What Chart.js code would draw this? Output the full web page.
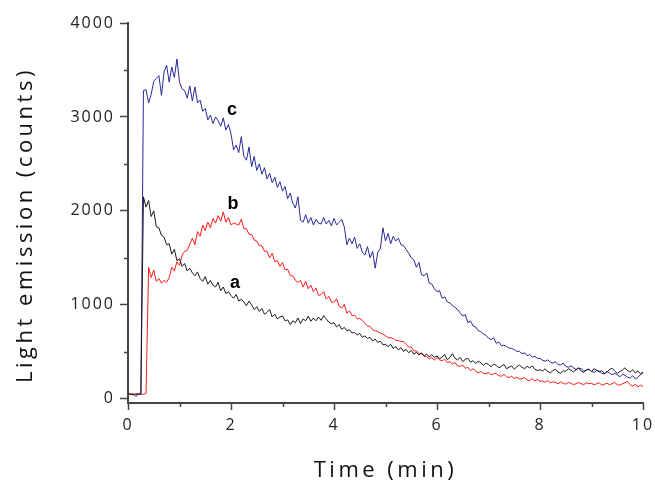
<!DOCTYPE html>
<html>
<head>
<meta charset="utf-8">
<script src="https://cdn.jsdelivr.net/npm/chart.js@4.4.1/dist/chart.umd.min.js"></script>
<style>
  html, body { margin: 0; padding: 0; background: #fff; }
  #chart { display: block; }
</style>
</head>
<body>
<canvas id="chart" width="655" height="481"></canvas>
<script>
// sampled every 0.05 min, 0 .. 10 min
const sampleStep = 0.05;

// trace c (blue)
const traceC = [
  50, 42, 55, 25, 48, 55, 3280, 3290, 3150, 3240, 3380, 3410, 3440, 3230, 3480, 3550, 3370, 3530, 3420, 3617,
  3370, 3300, 3280, 3200, 3330, 3170, 3320, 3150, 3180, 3060, 3090, 2970, 3020, 2930, 3000, 2960, 2900, 2990, 2860, 2920,
  2820, 2650, 2700, 2620, 2790, 2580, 2540, 2680, 2470, 2580, 2430, 2500, 2390, 2460, 2340, 2400, 2300, 2360, 2250, 2310,
  2210, 2260, 2130, 2190, 2080, 2030, 2150, 1900, 1880, 1960, 1870, 1930, 1850, 1910, 1870, 1860, 1930, 1860, 1900, 1840,
  1920, 1850, 1880, 1910, 1830, 1640, 1710, 1650, 1720, 1600, 1650, 1560, 1530, 1620, 1500, 1570, 1390, 1560, 1600, 1820,
  1680, 1760, 1650, 1730, 1680, 1710, 1640, 1630, 1590, 1550, 1500, 1480, 1400, 1450, 1320, 1310, 1340, 1230, 1220, 1170,
  1140, 1150, 1070, 1085, 1030, 1020, 990, 975, 950, 915, 880, 895, 810, 830, 775, 765, 725, 715, 690, 675,
  645, 630, 650, 590, 605, 565, 570, 555, 540, 535, 525, 505, 505, 480, 490, 460, 470, 445, 450, 430,
  430, 410, 400, 415, 390, 380, 395, 365, 360, 380, 345, 335, 350, 330, 310, 325, 320, 295, 305, 315,
  290, 280, 300, 295, 270, 265, 290, 275, 255, 270, 255, 235, 260, 250, 230, 220, 245, 210, 230, 255,
  275
];

// trace a (black)
const traceA = [
  55, 50, 45, 52, 48, 50, 2150, 2040, 2110, 1940, 2000, 1830, 1820, 1740, 1720, 1640, 1650, 1540, 1590, 1470,
  1490, 1410, 1440, 1360, 1390, 1340, 1310, 1350, 1280, 1250, 1300, 1220, 1260, 1210, 1190, 1240, 1150, 1190, 1120, 1140,
  1100, 1070, 1110, 1040, 1060, 1030, 990, 1040, 1000, 950, 980, 930, 960, 900, 920, 950, 870, 900, 850, 870,
  880, 830, 840, 790, 830, 810, 860, 800, 850, 830, 880, 825, 860, 830, 870, 835, 885, 850, 815, 800,
  810, 765, 790, 740, 760, 725, 735, 700, 705, 680, 695, 655, 670, 640, 655, 615, 635, 600, 615, 575,
  580, 555, 580, 535, 555, 520, 545, 505, 525, 490, 515, 475, 495, 465, 490, 455, 475, 445, 470, 440,
  455, 425, 445, 470, 415, 440, 480, 430, 415, 440, 395, 420, 430, 390, 405, 375, 400, 385, 355, 380,
  365, 340, 370, 355, 330, 345, 365, 320, 335, 350, 315, 340, 360, 335, 320, 345, 330, 350, 315, 300,
  310, 295, 320, 290, 275, 300, 315, 285, 270, 300, 290, 320, 305, 285, 310, 330, 295, 280, 305, 315,
  290, 320, 305, 285, 300, 270, 285, 310, 325, 295, 270, 290, 305, 330, 300, 285, 310, 275, 295, 265,
  285
];

// trace b (red)
const traceB = [
  45, 52, 40, 48, 55, 45, 50, 55, 1400, 1290, 1370, 1250, 1280, 1230, 1260, 1240, 1290, 1400, 1360, 1460,
  1420, 1530, 1570, 1580, 1650, 1710, 1640, 1780, 1730, 1850, 1790, 1880, 1820, 1920, 1870, 1950, 1890, 1990, 1880, 1930,
  1850, 1870, 1860, 1850, 1910, 1810, 1810, 1750, 1750, 1690, 1680, 1630, 1630, 1570, 1570, 1500, 1550, 1460, 1470, 1410,
  1450, 1370, 1380, 1310, 1310, 1260, 1240, 1260, 1190, 1250, 1170, 1210, 1140, 1180, 1100, 1110, 1140, 1060, 1090, 1030,
  1030, 1065, 985, 965, 1005, 910, 935, 885, 890, 850, 855, 835, 805, 775, 770, 735, 725, 715, 700, 690,
  670, 650, 650, 640, 620, 620, 610, 610, 580, 550, 550, 510, 510, 480, 480, 450, 450, 425, 440, 410,
  440, 415, 405, 420, 385, 395, 370, 385, 350, 345, 360, 325, 335, 300, 320, 295, 275, 290, 270, 265,
  280, 255, 265, 270, 245, 240, 260, 235, 225, 240, 215, 230, 210, 215, 225, 200, 195, 215, 190, 205,
  185, 190, 175, 195, 170, 180, 175, 160, 180, 165, 155, 175, 165, 150, 160, 175, 160, 150, 170, 160,
  165, 150, 160, 170, 145, 155, 165, 150, 160, 175, 150, 145, 160, 170, 185, 150, 135, 155, 125, 145,
  130
];

const xMajorTicks = [0, 2, 4, 6, 8, 10];
const xMinorTicks = [1, 3, 5, 7, 9];
const yMajorTicks = [0, 1000, 2000, 3000, 4000];
const yMinorTicks = [500, 1500, 2500, 3500];

// curve labels and where they sit (data units)
const curveLabels = ['c', 'b', 'a'];
const curveLabelX = [2.02, 2.04, 2.08];
const curveLabelY = [3022, 2021, 1180];

const xTitle = 'Time (min)';
const yTitle = 'Light emission (counts)';

function toPoints(values) {
  return values.map((v, i) => ({ x: +(i * sampleStep).toFixed(2), y: v }));
}

const axisColor = '#444';
const tickFont = { family: 'Open Sans', size: 16 };

const decorPlugin = {
  id: 'decor',
  beforeDraw(chart) {
    chart.ctx.letterSpacing = '2px';
  },
  afterDraw(chart) {
    const ctx = chart.ctx;
    const xs = chart.scales.x, ys = chart.scales.y;
    const area = chart.chartArea;
    ctx.save();
    ctx.letterSpacing = '0px';

    // minor ticks
    ctx.strokeStyle = axisColor; ctx.lineWidth = 1.5;
    ctx.beginPath();
    xMinorTicks.forEach((v) => {
      const px = Math.round(xs.getPixelForValue(v)) + 0.5;
      ctx.moveTo(px, area.bottom); ctx.lineTo(px, area.bottom + 4);
    });
    yMinorTicks.forEach((v) => {
      const py = Math.round(ys.getPixelForValue(v)) + 0.5;
      ctx.moveTo(area.left - 4, py); ctx.lineTo(area.left, py);
    });
    ctx.stroke();

    // a / b / c
    ctx.fillStyle = '#000';
    ctx.font = 'bold 18px "Liberation Sans", Arial, sans-serif';
    ctx.textAlign = 'center'; ctx.textBaseline = 'alphabetic';
    curveLabels.forEach((t, i) => {
      ctx.fillText(t, xs.getPixelForValue(curveLabelX[i]), ys.getPixelForValue(curveLabelY[i]));
    });

    // axis titles, spaced out like the original
    ctx.fillStyle = '#111';
    ctx.font = '22px "Open Sans", sans-serif';
    ctx.letterSpacing = '3.5px';
    ctx.fillText(xTitle, (area.left + area.right) / 2, 477);
    ctx.translate(32, 225);
    ctx.rotate(-Math.PI / 2);
    ctx.fillText(yTitle, 0, 0);
    ctx.restore();
    ctx.letterSpacing = '0px';
  }
};

function initChart() {
  const canvas = document.getElementById('chart');
  return new Chart(canvas.getContext('2d'), {
    type: 'line',
    data: {
      datasets: [
        { label: 'a', data: toPoints(traceA), borderColor: '#1a1a1a' },
        { label: 'b', data: toPoints(traceB), borderColor: '#ff1a1a' },
        { label: 'c', data: toPoints(traceC), borderColor: '#28289a' }
      ]
    },
    options: {
      responsive: false,
      animation: false,
      events: [],
      layout: { padding: { left: 0, right: 12, top: 23, bottom: 0 } },
      elements: {
        line: { borderWidth: 1, tension: 0 },
        point: { radius: 0 }
      },
      plugins: { legend: { display: false }, tooltip: { enabled: false } },
      scales: {
        x: {
          type: 'linear', min: 0, max: 10,
          afterBuildTicks: (s) => { s.ticks = xMajorTicks.map((v) => ({ value: v })); },
          afterFit: (s) => { s.height = 78; s.paddingLeft = 0; s.paddingRight = 0; },
          ticks: { font: tickFont, color: '#222', padding: 6, maxRotation: 0, callback: (v) => String(v) },
          grid: { drawOnChartArea: false, tickLength: 7, tickWidth: 1.5, tickColor: axisColor },
          border: { color: axisColor, width: 2 }
        },
        y: {
          min: -45, max: 4000,
          afterBuildTicks: (s) => { s.ticks = yMajorTicks.map((v) => ({ value: v })); },
          afterFit: (s) => { s.width = 128; s.paddingTop = 0; s.paddingBottom = 0; },
          ticks: { font: tickFont, color: '#222', padding: 5, callback: (v) => String(v) },
          grid: { drawOnChartArea: false, tickLength: 8, tickWidth: 1.5, tickColor: axisColor },
          border: { color: axisColor, width: 2 }
        }
      }
    },
    plugins: [decorPlugin]
  });
}

initChart();
</script>
</body>
</html>
